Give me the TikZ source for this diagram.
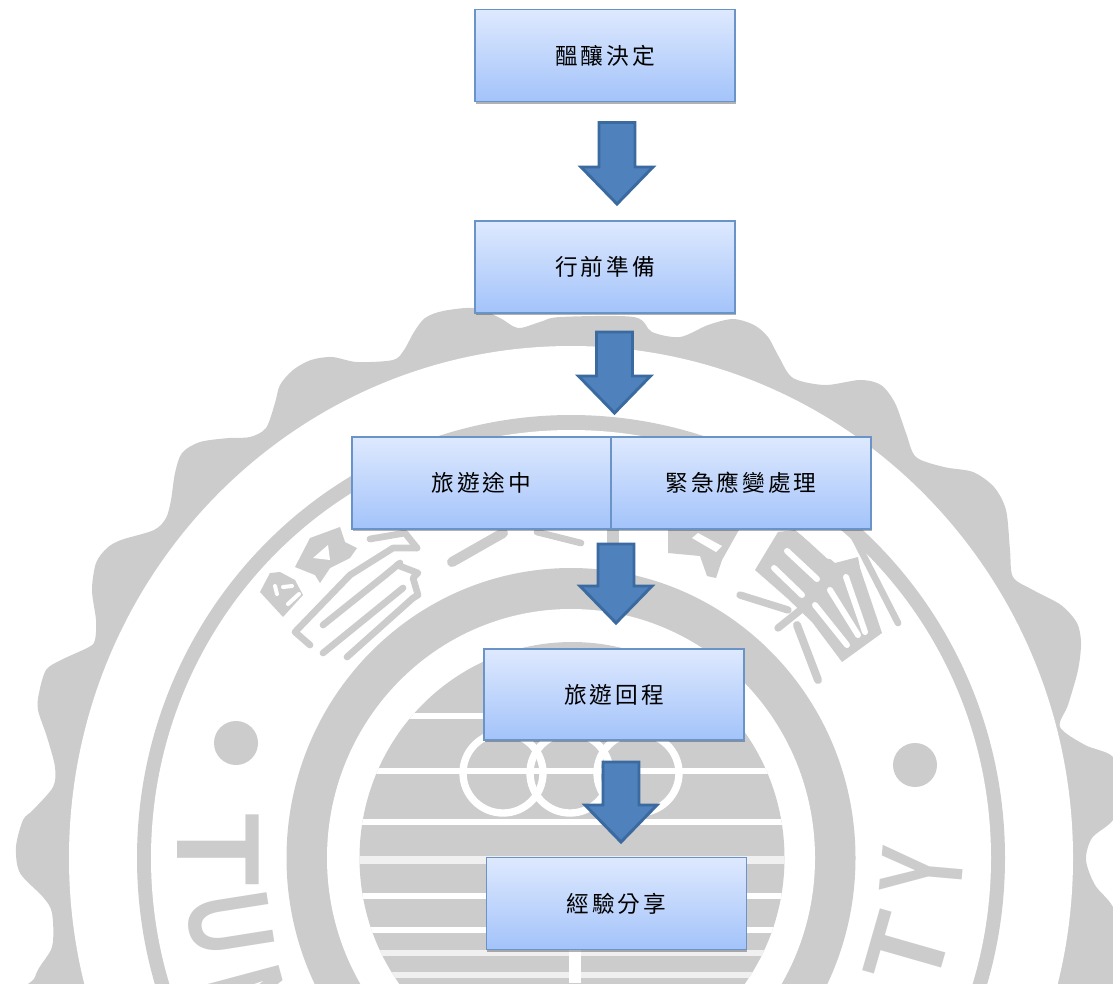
\documentclass[tikz,border=0pt]{standalone}
\usepackage{fontspec}
\usepackage{xcolor}
\usetikzlibrary{calc,shadows}
\newfontfamily\boxfont[LetterSpace=13]{Noto Sans CJK TC}
\newfontfamily\sealfont{Liberation Sans}
\definecolor{sealgray}{HTML}{CCCCCC}
\definecolor{stripegray}{HTML}{F0F0F0}
\definecolor{boxline}{HTML}{6A93C8}
\definecolor{boxtop}{HTML}{DEE9FE}
\definecolor{boxbot}{HTML}{A3C3FA}
\definecolor{arrowfill}{HTML}{4F81BD}
\definecolor{arrowline}{HTML}{3A6AA0}
\tikzset{
  flowbox/.style={draw=boxline,line width=1.1pt,top color=boxtop,bottom color=boxbot,
    minimum width=195pt,minimum height=69pt,inner sep=0pt,outer sep=0pt,
    font=\boxfont\fontsize{17}{17}\selectfont,
    drop shadow={shadow xshift=0.6pt,shadow yshift=-1.6pt,opacity=.3,fill=black}},
  blockarrow/.style={fill=arrowfill,draw=arrowline,line width=2.2pt,miter limit=10,
    to path={($(\tikztostart)+(-18,0)$) -- ($(\tikztostart)+(18,0)$)
      -- ($(\tikztotarget)+(18,-37)$) -- ($(\tikztotarget)+(36,-37)$)
      -- (\tikztotarget) -- ($(\tikztotarget)+(-36,-37)$)
      -- ($(\tikztotarget)+(-18,-37)$) -- cycle}},
  sealstroke/.style={draw=sealgray,line width=5pt,line cap=round,line join=round},
  sealslot/.style={draw=white,line width=4.5pt,line cap=round},
  sealletter/.style={text=sealgray,inner sep=0pt,font=\sealfont\bfseries\fontsize{89}{89}\selectfont},
}

\begin{document}
\begin{tikzpicture}[x=0.75pt,y=0.75pt,yscale=-1,xscale=1]
\useasboundingbox (0,0) rectangle (1113,983);
\begin{scope}
\clip (0,0) rectangle (1113,983);
%Shape: outer scalloped edge
\fill [sealgray] plot [smooth cycle,tension=.5] coordinates {
 (16,847) (23,820) (33,810) (53,787) (55,767) (47,737) (38,710) (39,693) (46,670)
 (61,660) (89,647) (95,640) (96,620) (92,590) (96,563) (107,548) (121,540) (154,530)
 (166,518) (171,500) (175,473) (182,453) (200,442) (229,438) (250,437) (266,428)
 (275,403) (280,385) (293,370) (311,360) (332,357) (357,362) (393,360) (404,350)
 (414,332) (425,318) (443,311) (475,308) (500,318) (518,328) (540,322) (560,317)
 (634,317) (652,332) (680,337) (708,325) (733,319) (754,325) (768,337) (779,357)
 (793,378) (825,385) (860,380) (881,385) (895,403) (906,433) (916,457) (944,467)
 (973,472) (994,487) (1006,510) (1010,550) (1013,577) (1033,590) (1061,605) (1077,623)
 (1081,643) (1078,670) (1068,705) (1060,727) (1085,745) (1113,757) (1125,790) (1113,820)
 (1092,838) (1086,860) (1095,885) (1113,907) (1130,950) (1120,1030) (575,1100)
 (30,1030) (35,977) (52,947) (52,913) (43,897) (20,873) };
%Shape: rings of the seal
\fill [white] (571,858) ellipse [x radius=502,y radius=512];
\fill [sealgray] (571,858) ellipse [x radius=434,y radius=443];
\fill [white] (571,858) ellipse [x radius=420,y radius=428];
\fill [sealgray] (571,858) ellipse [x radius=284.5,y radius=290];
\fill [white] (571,858) ellipse [x radius=244,y radius=249];
%Shape: striped disc
\begin{scope}
\clip (572,858) ellipse [x radius=212.5,y radius=216];
\fill [sealgray] (340,630) rectangle (800,1090);
\draw [white,line width=4.5pt] (340,716) -- (800,716);
\draw [white,line width=4.5pt] (340,771) -- (800,771);
\draw [white,line width=4.5pt] (340,822) -- (800,822);
\draw [stripegray,line width=5.5pt] (340,860) -- (800,860);
\draw [white,line width=3.8pt] (340,896) -- (800,896);
\draw [white,line width=3.8pt] (340,930) -- (800,930);
\draw [stripegray,line width=3.8pt] (340,953) -- (800,953);
\draw [stripegray,line width=3.8pt] (340,975) -- (800,975);
\draw [white,line width=9pt] (575,930) -- (575,983);
\end{scope}
%Shape: white loops
\draw [white,line width=5.5pt] (503,773) ellipse [x radius=40,y radius=40];
\draw [white,line width=5.5pt] (570,773) ellipse [x radius=40,y radius=40];
\draw [white,line width=5.5pt] (638,773) ellipse [x radius=41,y radius=40];
%Shape: Circle
\fill [sealgray] (236,743) circle (22);
\fill [sealgray] (915,765) circle (22);
% Text Node
\node (letT) at (218,850) [sealletter,rotate=-90] {T};
\node (letU) at (230,924) [sealletter,rotate=-81,xscale=.7] {U};
\node (letN) at (247,1003) [sealletter,rotate=-75,xscale=.8] {N};
\node (letY) at (922,871) [sealletter,rotate=85,xscale=.6] {Y};
\node (letTb) at (908,950) [sealletter,rotate=74,scale=.92] {T};
%Shape: left glyph
\fill [sealgray] (270,573) -- (260,592) -- (283,617) -- (303,595) -- (295,580) -- (280,572) -- cycle;
\draw [sealslot,line width=3pt] (275,586) -- (277,594);
\draw [sealslot,line width=3pt] (288,604) -- (299,594);
\draw [sealslot,line width=3pt] (283,587) -- (292,586);
\fill [sealgray] (295,567) -- (310,538) -- (340,527) -- (345,542) -- (357,548) -- (350,558) -- (330,568) -- (320,583) -- (315,575) -- cycle;
\fill [white] (313,558) -- (328,545) -- (330,560) -- cycle;
\draw [sealstroke] (310,645) -- (295,632) -- (350,575) -- (393,548) -- (417,548);
\draw [sealstroke] (370,539) -- (405,533) -- (417,548);
\draw [sealstroke] (323,625) -- (383,577) -- (400,563);
\draw [sealstroke] (323,653) -- (403,588);
\draw [sealstroke] (347,657) -- (413,598);
\draw [sealstroke] (397,565) -- (418,573) -- (413,578) -- (418,595) -- (413,598);
\draw [sealstroke,line width=7.5pt] (452,562) -- (503,533);
\draw [sealstroke] (537,532) -- (581,543);
\draw [sealstroke,line width=9pt] (613,530) -- (613,545);
%Shape: right glyph
\fill [sealgray] (668,528) -- (740,528) -- (722,560) -- (716,578) -- (707,576) -- (700,556) -- (668,553) -- cycle;
\fill [white] (692,538) -- (698,533) -- (722,546) -- (716,552) -- cycle;
\fill [sealgray] (755,570) -- (778,532) -- (795,530) -- (835,563) -- (858,557) -- (860,568) -- (882,633) -- (842,662) -- (812,622) -- (787,598) -- cycle;
\draw [sealslot] (787,551) -- (817,579);
\draw [sealslot] (774,568) -- (802,595);
\draw [sealslot] (805,534) -- (829,556);
\draw [sealslot] (846,577) -- (865,632);
\draw [sealslot] (830,590) -- (858,635);
\draw [sealslot] (815,605) -- (847,645);
\draw [sealstroke,line width=5.5pt] (740,595) -- (788,610);
\draw [sealstroke,line width=5.5pt] (778,628) -- (803,608);
\draw [sealstroke,line width=6pt] (797,625) -- (818,680);
\draw [sealstroke] (852,533) -- (898,623);
\end{scope}
% Box Nodes
\node (boxA) at (605,55.5) [flowbox] {醞釀決定};
\node (boxB) at (605,267) [flowbox] {行前準備};
\node (boxC) at (481.5,483) [flowbox,minimum width=194.25pt] {旅遊途中};
\node (boxD) at (741,483) [flowbox] {緊急應變處理};
\node (boxE) at (614,694.5) [flowbox,minimum height=68.25pt] {旅遊回程};
\node (boxF) at (616.5,903.5) [flowbox] {經驗分享};
%Block Arrows
\draw [blockarrow] ([shift={(12,21)}]boxA.south) to ([shift={(12,-17)}]boxB.north);
\draw [blockarrow] ([shift={(9.5,19)}]boxB.south) to ([shift={(3.5,-24)}]boxC.north east);
\draw [blockarrow] ([shift={(5,15)}]boxC.south east) to ([shift={(2,-26)}]boxE.north);
\draw [blockarrow] ([shift={(7,22)}]boxE.south) to ([shift={(4.5,-15.5)}]boxF.north);
\end{tikzpicture}
\end{document}
